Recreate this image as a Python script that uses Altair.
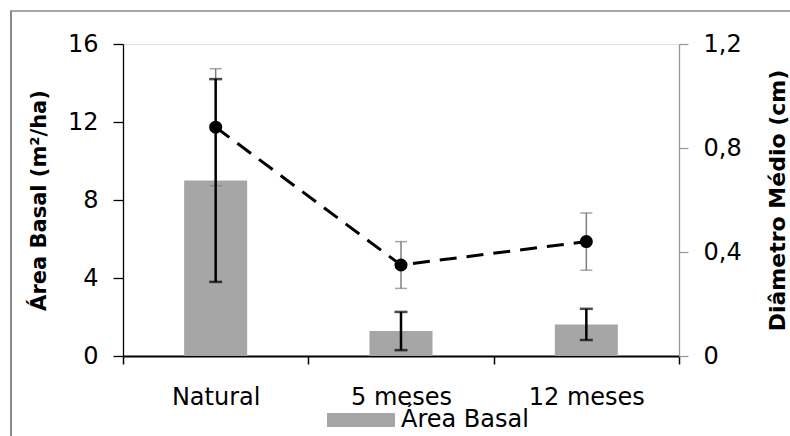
import altair as alt
import pandas as pd

# ---- data ----
categorias = ["Natural", "5 meses", "12 meses"]
area_basal = [9.0, 1.28, 1.62]          # m²/ha (left axis)
area_basal_erro = [5.2, 0.98, 0.80]
diametro = [0.88, 0.35, 0.44]           # cm (right axis)
diametro_erro = [0.225, 0.09, 0.11]
serie_barras = "Área Basal"
ticks_area = [0, 4, 8, 12, 16]
ticks_diam = [0, 0.4, 0.8, 1.2]

df = pd.DataFrame({
    "cat": categorias,
    "area": area_basal,
    "area_lo": [a - e for a, e in zip(area_basal, area_basal_erro)],
    "area_hi": [a + e for a, e in zip(area_basal, area_basal_erro)],
    "diam": diametro,
    "diam_lo": [d - e for d, e in zip(diametro, diametro_erro)],
    "diam_hi": [d + e for d, e in zip(diametro, diametro_erro)],
    "serie": [serie_barras] * len(categorias),
})

FONT = "DejaVu Sans"
W, H = 556, 312

x_axis = alt.Axis(
    title=None, labelAngle=0, labelFont=FONT, labelFontSize=24, labelColor="black",
    labelPadding=21, tickSize=8, tickColor="black", tickWidth=1.5,
    domainColor="black", domainWidth=2, tickBand="extent", grid=False,
)
X = alt.X("cat:N", sort=categorias,
          scale=alt.Scale(paddingInner=0, paddingOuter=0), axis=x_axis)

sc_area = alt.Scale(domain=[0, 16], nice=False, zero=True)
sc_diam = alt.Scale(domain=[0, 1.2], nice=False, zero=True)

left_axis = alt.Axis(
    title="Área Basal (m²/ha)", values=ticks_area, format="d",
    labelFont=FONT, labelFontSize=24, labelColor="black", labelPadding=15,
    tickSize=10, tickColor="black", tickWidth=1.3,
    domainColor="black", domainWidth=1.3, grid=False,
    titleFont=FONT, titleFontSize=21, titleFontWeight="bold", titleColor="black",
    titleAngle=270, titleX=-84, titleY=H / 2, titleAlign="center", titleBaseline="middle",
)
right_axis = alt.Axis(
    orient="right", title="Diâmetro Médio (cm)", values=ticks_diam,
    labelExpr="datum.value == 0 ? '0' : replace(format(datum.value, '.1f'), '.', ',')",
    labelFont=FONT, labelFontSize=24, labelColor="black", labelPadding=15,
    tickSize=9, tickColor="#9a9a9a", tickWidth=1.3,
    domainColor="#9a9a9a", domainWidth=1.3, grid=False,
    titleFont=FONT, titleFontSize=22, titleFontWeight="bold", titleColor="black",
    titleAngle=270, titleX=98, titleY=H / 2, titleAlign="center", titleBaseline="middle",
)

base = alt.Chart(df)

bars = base.mark_bar(size=63).encode(
    x=X,
    y=alt.Y("area:Q", scale=sc_area, axis=left_axis),
    color=alt.Color("serie:N", scale=alt.Scale(domain=[serie_barras], range=["#A6A6A6"]),
                    legend=alt.Legend(
                        orient="none", legendX=204, legendY=342, title=None,
                        symbolType="M-1,-0.206H1V0.206H-1Z", symbolSize=4624,
                        symbolStrokeWidth=0, labelFont=FONT, labelFontSize=24,
                        labelColor="black", labelOffset=6, padding=0)),
)

diam_err = base.mark_rule(color="#7f7f7f", strokeWidth=1.5).encode(
    x=X, y=alt.Y("diam_lo:Q", scale=sc_diam, axis=None), y2="diam_hi:Q")
diam_cap_lo = base.mark_tick(color="#7f7f7f", thickness=1.5, size=12).encode(
    x=X, y=alt.Y("diam_lo:Q", scale=sc_diam, axis=None))
diam_cap_hi = base.mark_tick(color="#7f7f7f", thickness=1.5, size=12).encode(
    x=X, y=alt.Y("diam_hi:Q", scale=sc_diam, axis=None))

area_err = base.mark_rule(color="black", strokeWidth=2.5).encode(
    x=X, y=alt.Y("area_lo:Q", scale=sc_area, axis=None), y2="area_hi:Q")
area_cap_lo = base.mark_tick(color="black", thickness=2.5, size=13).encode(
    x=X, y=alt.Y("area_lo:Q", scale=sc_area, axis=None))
area_cap_hi = base.mark_tick(color="black", thickness=2.5, size=13).encode(
    x=X, y=alt.Y("area_hi:Q", scale=sc_area, axis=None))

line = base.mark_line(color="black", strokeWidth=3, strokeDash=[17, 10]).encode(
    x=X, y=alt.Y("diam:Q", scale=sc_diam, axis=None))
points = base.mark_point(filled=True, color="black", size=170, opacity=1).encode(
    x=X, y=alt.Y("diam:Q", scale=sc_diam, axis=right_axis))

frame_df = pd.DataFrame({"k": [0]})
frame_v = alt.Chart(frame_df).mark_rule(color="#8a8a8a", strokeWidth=2).encode(
    x=alt.value(-112), y=alt.value(-33), y2=alt.value(400))
frame_h = alt.Chart(frame_df).mark_rule(color="#8a8a8a", strokeWidth=1.5).encode(
    x=alt.value(-113), x2=alt.value(680), y=alt.value(-33))

chart = alt.layer(
    bars, diam_err, diam_cap_lo, diam_cap_hi,
    area_err, area_cap_lo, area_cap_hi,
    line, points, frame_v, frame_h,
).resolve_scale(y="independent").properties(
    width=W, height=H,
    autosize=alt.AutoSizeParams(type="none"),
    padding={"left": 123, "top": 44, "right": 111, "bottom": 80},
).configure_view(stroke=None).configure(background="white")

chart.save("out.html", embed_options={"renderer": "svg", "actions": False})
